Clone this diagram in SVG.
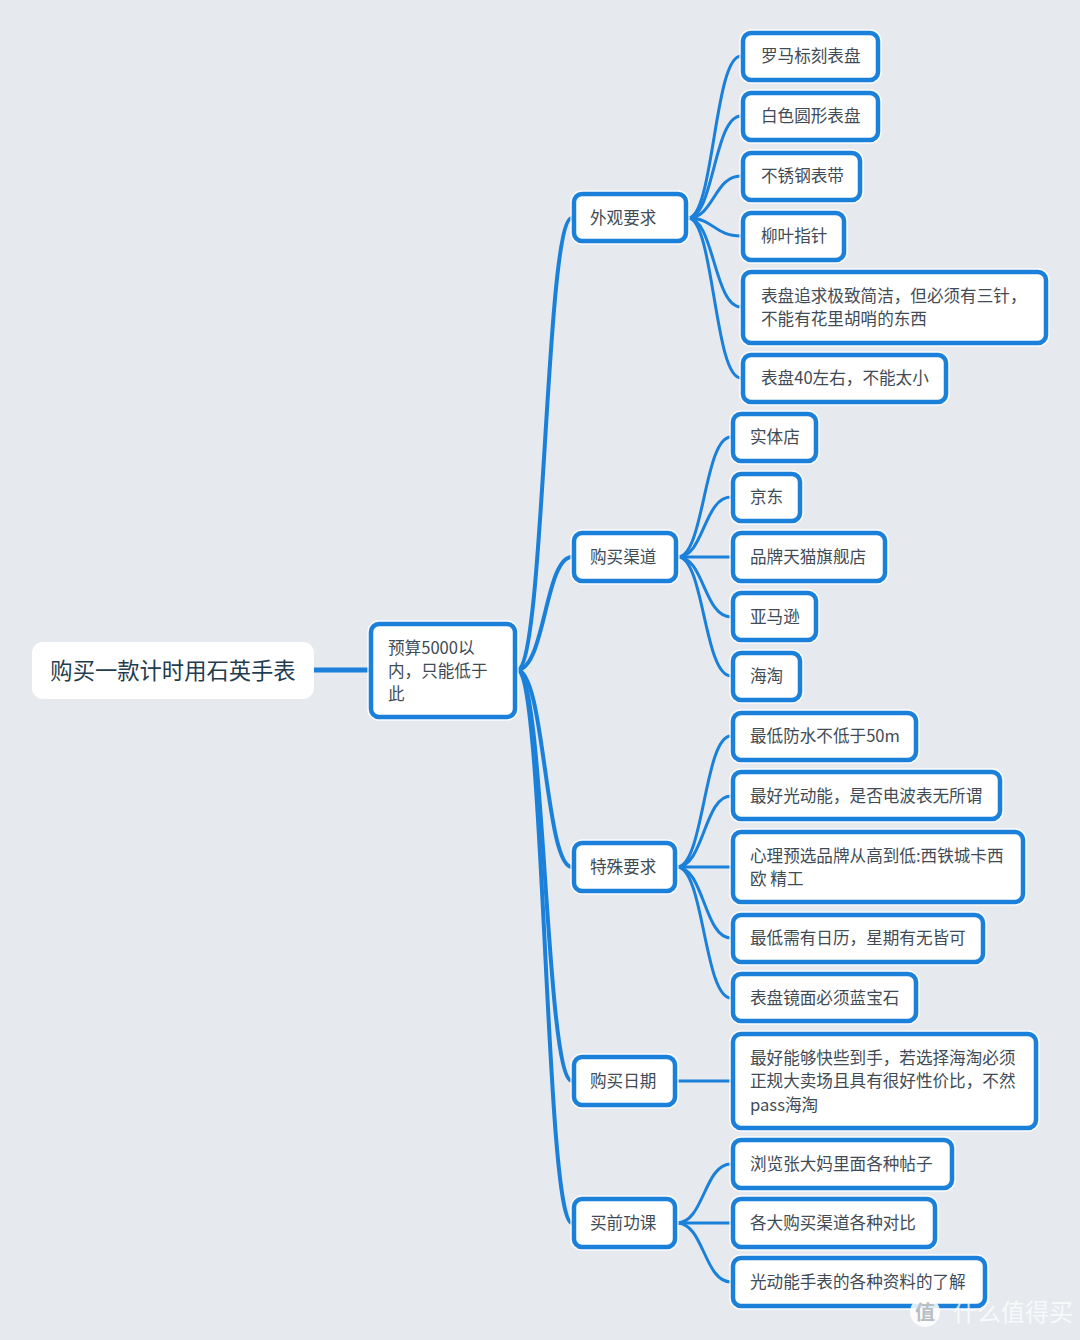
<svg xmlns="http://www.w3.org/2000/svg" width="1080" height="1340" viewBox="0 0 1080 1340">
<style>
.bg{fill:#e6eaee}
.box{fill:#ffffff;stroke:#1a80d9;stroke-width:4.5}
.halo{fill:none;stroke:#ffffff;stroke-width:7.5;opacity:0.8}
.t{font-family:"Noto Sans CJK SC","Noto Sans",sans-serif;font-size:16.6px;fill:#414b55}
.root{font-family:"Noto Sans CJK SC","Noto Sans",sans-serif;font-size:22.3px;fill:#1f3d4f}
.c1{fill:none;stroke:#1a80d9;stroke-width:4}
.c2{fill:none;stroke:#1a80d9;stroke-width:3}
.wm{font-family:"Noto Sans CJK SC",sans-serif;fill:#ffffff;opacity:0.75}
</style>
<rect class="bg" x="0" y="0" width="1080" height="1340"/>

<g id="connectors">
  <line x1="314" y1="670" x2="370" y2="670" stroke="#1a80d9" stroke-width="5"/>
  <path class="c1" d="M517,670 C545,670 545,218 572,218"/>
  <path class="c1" d="M517,670 C545,670 545,557 572,557"/>
  <path class="c1" d="M517,670 C545,670 545,867 572,867"/>
  <path class="c1" d="M517,670 C545,670 545,1081 572,1081"/>
  <path class="c1" d="M517,670 C545,670 545,1223 572,1223"/>
  <path class="c2" d="M688,218 C714,218 714,56 741,56"/>
  <path class="c2" d="M688,218 C714,218 714,116 741,116"/>
  <path class="c2" d="M688,218 C714,218 714,176 741,176"/>
  <path class="c2" d="M688,218 C714,218 714,236 741,236"/>
  <path class="c2" d="M688,218 C714,218 714,307 741,307"/>
  <path class="c2" d="M688,218 C714,218 714,378 741,378"/>
  <path class="c2" d="M678,557 C704,557 704,437 731,437"/>
  <path class="c2" d="M678,557 C704,557 704,497 731,497"/>
  <path class="c2" d="M678,557 L731,557"/>
  <path class="c2" d="M678,557 C704,557 704,617 731,617"/>
  <path class="c2" d="M678,557 C704,557 704,676 731,676"/>
  <path class="c2" d="M677,867 C704,867 704,736 731,736"/>
  <path class="c2" d="M677,867 C704,867 704,796 731,796"/>
  <path class="c2" d="M677,867 L731,867"/>
  <path class="c2" d="M677,867 C704,867 704,938 731,938"/>
  <path class="c2" d="M677,867 C704,867 704,998 731,998"/>
  <path class="c2" d="M677,1081 L731,1081"/>
  <path class="c2" d="M677,1223 C704,1223 704,1164 731,1164"/>
  <path class="c2" d="M677,1223 L731,1223"/>
  <path class="c2" d="M677,1223 C704,1223 704,1282 731,1282"/>
</g>

<g id="root">
  <rect x="32" y="642" width="282" height="57" rx="11" fill="#ffffff"/>
  <text class="root" x="173" y="679" text-anchor="middle">购买一款计时用石英手表</text>
</g>

<g id="budget">
  <rect class="halo" x="371" y="624" width="144" height="93" rx="8"/>
  <rect class="box" x="371" y="624" width="144" height="93" rx="8"/>
  <text class="t" x="388" y="654">预算5000以</text>
  <text class="t" x="388" y="677">内，只能低于</text>
  <text class="t" x="388" y="700">此</text>
</g>

<g id="n-appearance">
  <rect class="halo" x="574" y="194" width="112" height="47" rx="8"/>
  <rect class="box" x="574" y="194" width="112" height="47" rx="8"/>
  <text class="t" x="590" y="224">外观要求</text>
</g>
<g id="n-channel">
  <rect class="halo" x="574" y="533" width="102" height="48" rx="8"/>
  <rect class="box" x="574" y="533" width="102" height="48" rx="8"/>
  <text class="t" x="590" y="563">购买渠道</text>
</g>
<g id="n-special">
  <rect class="halo" x="574" y="843" width="101" height="48" rx="8"/>
  <rect class="box" x="574" y="843" width="101" height="48" rx="8"/>
  <text class="t" x="590" y="873">特殊要求</text>
</g>
<g id="n-date">
  <rect class="halo" x="574" y="1057" width="101" height="48" rx="8"/>
  <rect class="box" x="574" y="1057" width="101" height="48" rx="8"/>
  <text class="t" x="590" y="1087">购买日期</text>
</g>
<g id="n-homework">
  <rect class="halo" x="574" y="1199" width="101" height="48" rx="8"/>
  <rect class="box" x="574" y="1199" width="101" height="48" rx="8"/>
  <text class="t" x="590" y="1229">买前功课</text>
</g>

<g id="l-roman">
  <rect class="halo" x="743" y="33" width="135" height="47" rx="8"/>
  <rect class="box" x="743" y="33" width="135" height="47" rx="8"/>
  <text class="t" x="761" y="62">罗马标刻表盘</text>
</g>
<g id="l-white">
  <rect class="halo" x="743" y="93" width="135" height="47" rx="8"/>
  <rect class="box" x="743" y="93" width="135" height="47" rx="8"/>
  <text class="t" x="761" y="122">白色圆形表盘</text>
</g>
<g id="l-steel">
  <rect class="halo" x="743" y="153" width="117" height="47" rx="8"/>
  <rect class="box" x="743" y="153" width="117" height="47" rx="8"/>
  <text class="t" x="761" y="182">不锈钢表带</text>
</g>
<g id="l-leaf">
  <rect class="halo" x="743" y="213" width="101" height="47" rx="8"/>
  <rect class="box" x="743" y="213" width="101" height="47" rx="8"/>
  <text class="t" x="761" y="242">柳叶指针</text>
</g>
<g id="l-simple">
  <rect class="halo" x="743" y="272" width="303" height="71" rx="8"/>
  <rect class="box" x="743" y="272" width="303" height="71" rx="8"/>
  <text class="t" x="761" y="302">表盘追求极致简洁，但必须有三针，</text>
  <text class="t" x="761" y="325">不能有花里胡哨的东西</text>
</g>
<g id="l-40">
  <rect class="halo" x="743" y="355" width="203" height="47" rx="8"/>
  <rect class="box" x="743" y="355" width="203" height="47" rx="8"/>
  <text class="t" x="761" y="384">表盘40左右，不能太小</text>
</g>

<g id="l-store">
  <rect class="halo" x="733" y="414" width="83" height="47" rx="8"/>
  <rect class="box" x="733" y="414" width="83" height="47" rx="8"/>
  <text class="t" x="750" y="443">实体店</text>
</g>
<g id="l-jd">
  <rect class="halo" x="733" y="474" width="67" height="47" rx="8"/>
  <rect class="box" x="733" y="474" width="67" height="47" rx="8"/>
  <text class="t" x="750" y="503">京东</text>
</g>
<g id="l-tmall">
  <rect class="halo" x="733" y="533" width="152" height="48" rx="8"/>
  <rect class="box" x="733" y="533" width="152" height="48" rx="8"/>
  <text class="t" x="750" y="563">品牌天猫旗舰店</text>
</g>
<g id="l-amazon">
  <rect class="halo" x="733" y="593" width="83" height="47" rx="8"/>
  <rect class="box" x="733" y="593" width="83" height="47" rx="8"/>
  <text class="t" x="750" y="623">亚马逊</text>
</g>
<g id="l-haitao">
  <rect class="halo" x="733" y="653" width="67" height="47" rx="8"/>
  <rect class="box" x="733" y="653" width="67" height="47" rx="8"/>
  <text class="t" x="750" y="682">海淘</text>
</g>

<g id="l-water">
  <rect class="halo" x="733" y="713" width="183" height="47" rx="8"/>
  <rect class="box" x="733" y="713" width="183" height="47" rx="8"/>
  <text class="t" x="750" y="742">最低防水不低于50m</text>
</g>
<g id="l-solar">
  <rect class="halo" x="733" y="772" width="267" height="47" rx="8"/>
  <rect class="box" x="733" y="772" width="267" height="47" rx="8"/>
  <text class="t" x="750" y="802">最好光动能，是否电波表无所谓</text>
</g>
<g id="l-brand">
  <rect class="halo" x="733" y="832" width="290" height="70" rx="8"/>
  <rect class="box" x="733" y="832" width="290" height="70" rx="8"/>
  <text class="t" x="750" y="862">心理预选品牌从高到低:西铁城卡西</text>
  <text class="t" x="750" y="885" xml:space="preserve">欧 精工</text>
</g>
<g id="l-calendar">
  <rect class="halo" x="733" y="915" width="250" height="47" rx="8"/>
  <rect class="box" x="733" y="915" width="250" height="47" rx="8"/>
  <text class="t" x="750" y="944">最低需有日历，星期有无皆可</text>
</g>
<g id="l-sapphire">
  <rect class="halo" x="733" y="974" width="183" height="47" rx="8"/>
  <rect class="box" x="733" y="974" width="183" height="47" rx="8"/>
  <text class="t" x="750" y="1004">表盘镜面必须蓝宝石</text>
</g>

<g id="l-fast">
  <rect class="halo" x="733" y="1034" width="303" height="94" rx="8"/>
  <rect class="box" x="733" y="1034" width="303" height="94" rx="8"/>
  <text class="t" x="750" y="1064">最好能够快些到手，若选择海淘必须</text>
  <text class="t" x="750" y="1087">正规大卖场且具有很好性价比，不然</text>
  <text class="t" x="750" y="1111">pass海淘</text>
</g>

<g id="l-browse">
  <rect class="halo" x="733" y="1140" width="219" height="48" rx="8"/>
  <rect class="box" x="733" y="1140" width="219" height="48" rx="8"/>
  <text class="t" x="750" y="1170">浏览张大妈里面各种帖子</text>
</g>
<g id="l-compare">
  <rect class="halo" x="733" y="1199" width="202" height="48" rx="8"/>
  <rect class="box" x="733" y="1199" width="202" height="48" rx="8"/>
  <text class="t" x="750" y="1229">各大购买渠道各种对比</text>
</g>
<g id="l-info">
  <rect class="halo" x="733" y="1258" width="252" height="48" rx="8"/>
  <rect class="box" x="733" y="1258" width="252" height="48" rx="8"/>
  <text class="t" x="750" y="1288">光动能手表的各种资料的了解</text>
</g>

<g id="watermark">
  <circle cx="925" cy="1312" r="15" fill="#ffffff" opacity="0.85"/>
  <text x="925" y="1320" text-anchor="middle" font-family="Noto Sans CJK SC, sans-serif" font-size="20" font-weight="bold" fill="#b8bec4">值</text>
  <text class="wm" x="953" y="1321" font-size="24">什么值得买</text>
</g>
</svg>
